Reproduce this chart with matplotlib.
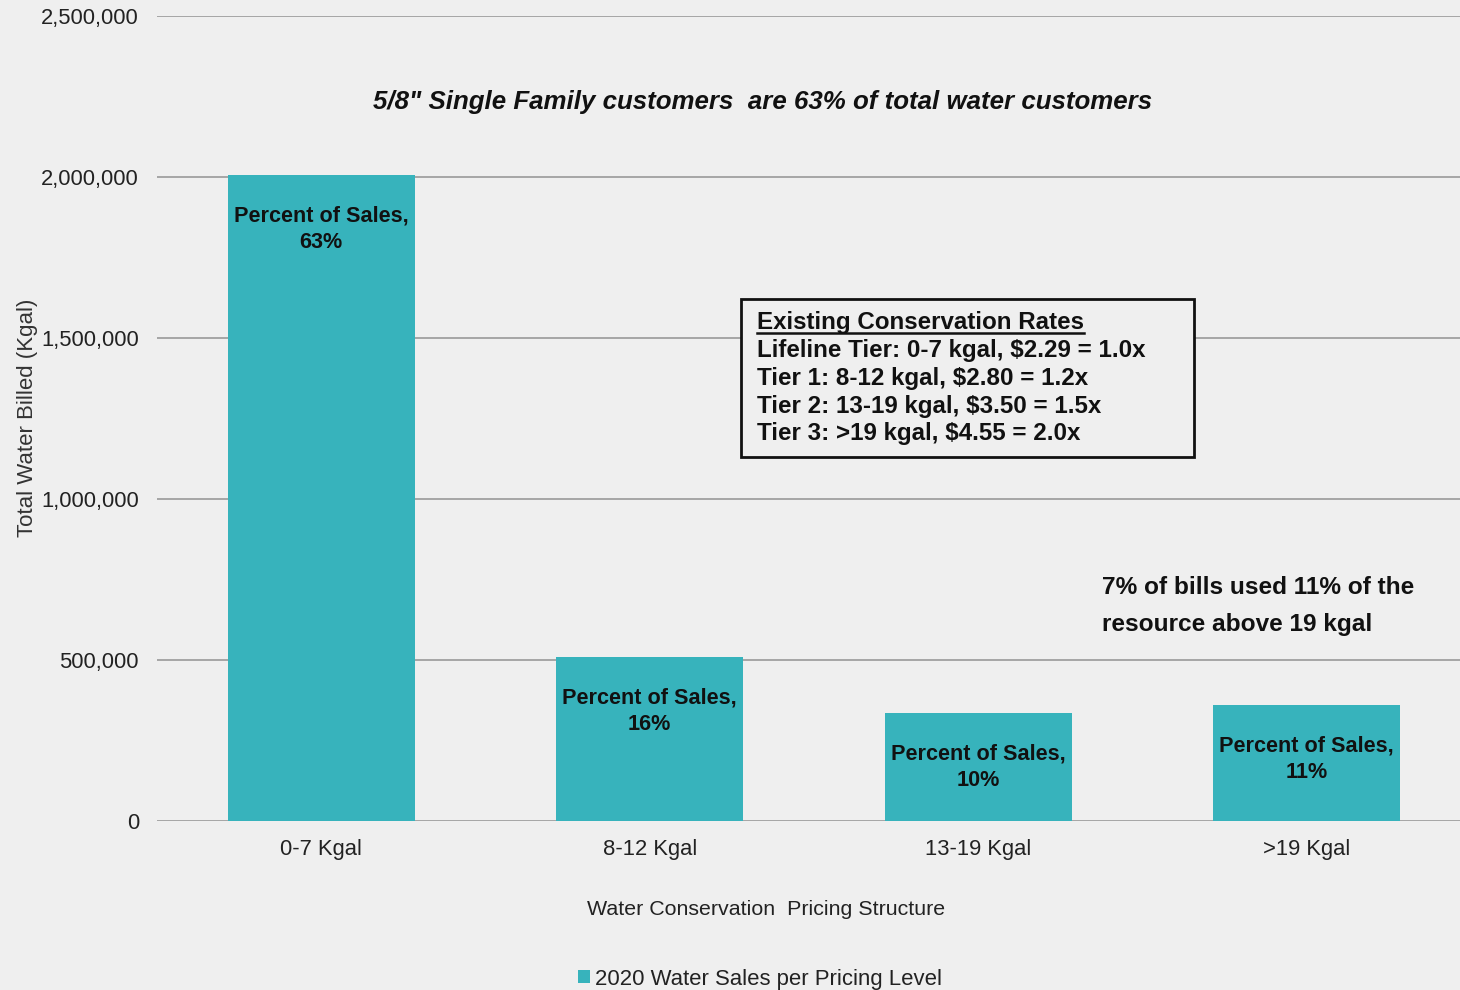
import matplotlib
matplotlib.use("Agg")
import matplotlib.pyplot as plt
from matplotlib.lines import Line2D
from matplotlib.ticker import FuncFormatter

categories = ["0-7 Kgal", "8-12 Kgal", "13-19 Kgal", ">19 Kgal"]
water_billed = [2006000, 509000, 336000, 360000]
pct_labels = ["Percent of Sales,\n63%", "Percent of Sales,\n16%",
              "Percent of Sales,\n10%", "Percent of Sales,\n11%"]
y_ticks = [0, 500000, 1000000, 1500000, 2000000, 2500000]
series_name = "2020 Water Sales per Pricing Level"
title_text = '5/8" Single Family customers  are 63% of total water customers'
box_title = "Existing Conservation Rates"
box_lines = ["Lifeline Tier: 0-7 kgal, $2.29 = 1.0x",
             "Tier 1: 8-12 kgal, $2.80 = 1.2x",
             "Tier 2: 13-19 kgal, $3.50 = 1.5x",
             "Tier 3: >19 kgal, $4.55 = 2.0x"]
note_text = "7% of bills used 11% of the\nresource above 19 kgal"

BG = "#efefef"
BAR = "#37b3bc"
GRID = "#a6a6a6"
plt.rcParams['font.family'] = ['Liberation Sans', 'DejaVu Sans']

fig = plt.figure(figsize=(14.6, 9.9), dpi=100, facecolor=BG)
ax = fig.add_axes([157/1460, 1-821/990, (1471-157)/1460, (821-16)/990])
ax.set_facecolor(BG)

x = list(range(len(categories)))
bars = ax.bar(x, water_billed, width=0.57, color=BAR, zorder=3, label=series_name)
ax.set_xlim(-0.5, 3.5)
ax.set_ylim(0, 2500000)
ax.set_yticks(y_ticks)
ax.yaxis.set_major_formatter(FuncFormatter(lambda v, p: f"{int(v):,}"))
ax.set_xticks(x)
ax.set_xticklabels(categories)
ax.tick_params(axis='both', length=0, labelsize=15.8, colors="#222222")
ax.tick_params(axis='y', pad=13)
ax.tick_params(axis='x', pad=13)
ax.grid(axis='y', color=GRID, linewidth=1.4, zorder=0)
for s in ax.spines.values():
    s.set_visible(False)

ax.set_ylabel("Total Water Billed (Kgal)", fontsize=16, color="#333333")
ax.yaxis.set_label_coords(-(157-38)/(1471-157), (821-418)/805)
ax.set_xlabel("Water Conservation  Pricing Structure", fontsize=15.4, color="#222222")
ax.xaxis.set_label_coords((766-157)/(1471-157), -(900-821)/805)

for xi, v, lab in zip(x, water_billed, pct_labels):
    ax.annotate(lab, xy=(xi, v), xytext=(0, -22), textcoords='offset points',
                ha='center', va='top', fontsize=15.6, fontweight='bold',
                color="#111111", linespacing=1.36, zorder=4)

fig.text(763/1460, 1-102/990, title_text, ha='center', va='center',
         fontsize=18.6, fontweight='bold', fontstyle='italic', color="#111111")

# rates box
bx0, by0, bx1, by1 = 741, 299, 1194, 457
rect = plt.Rectangle((bx0/1460, 1-by1/990), (bx1-bx0)/1460, (by1-by0)/990,
                     transform=fig.transFigure, fill=True, facecolor=BG,
                     edgecolor="#111111", linewidth=2, zorder=5)
fig.patches.append(rect)
t = fig.text(757/1460, 1-323/990, box_title, ha='left', va='center',
             fontsize=17.4, fontweight='bold', color="#111111", zorder=6)
ys = [350, 378, 406, 434]
for yy, line in zip(ys, box_lines):
    fig.text(757/1460, 1-yy/990, line, ha='left', va='center',
             fontsize=17.4, fontweight='bold', color="#111111", zorder=6)
fig.canvas.draw()
bb = t.get_window_extent(renderer=fig.canvas.get_renderer())
uy = (bb.y0 + 2) / fig.bbox.height
fig.add_artist(Line2D([bb.x0/fig.bbox.width, bb.x1/fig.bbox.width], [uy, uy],
                      transform=fig.transFigure, color="#111111", linewidth=1.8, zorder=6))

fig.text(1102/1460, 1-606/990, note_text, ha='left', va='center',
         fontsize=17.6, fontweight='bold', color="#111111", linespacing=1.76)

leg = fig.legend(handles=[bars], labels=[series_name], loc='center',
                 bbox_to_anchor=(760/1460, 1-979/990), frameon=False, fontsize=15.9,
                 handlelength=0.55, handleheight=0.55, handletextpad=0.2,
                 labelcolor="#222222")

fig.savefig("out.png", dpi=100, facecolor=BG)
